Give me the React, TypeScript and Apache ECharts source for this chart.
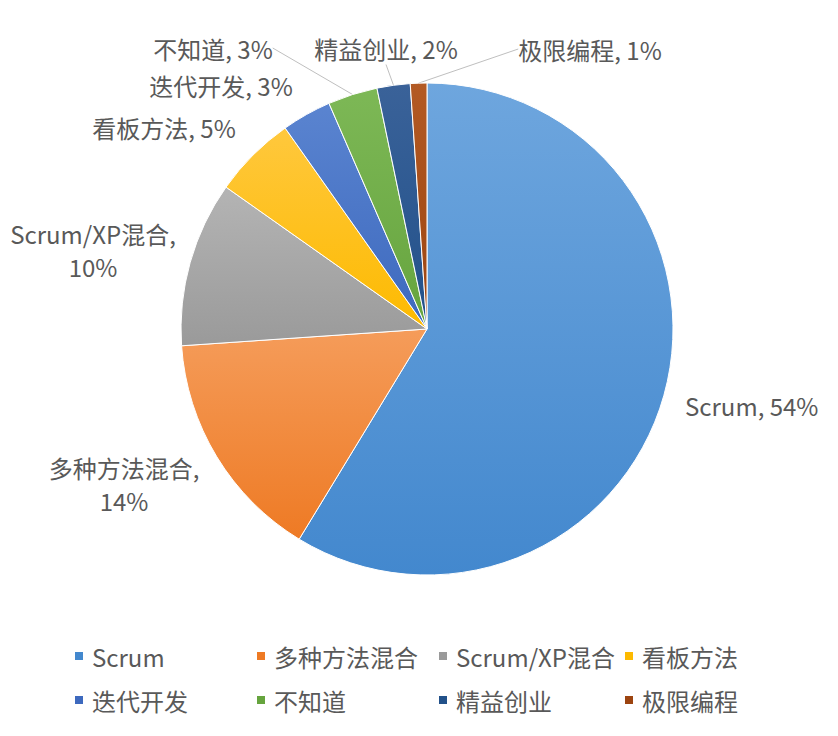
import React, { useEffect, useRef } from "react";
import * as echarts from "echarts";

const CATEGORIES = ["Scrum", "多种方法混合", "Scrum/XP混合", "看板方法", "迭代开发", "不知道", "精益创业", "极限编程"];
const VALUES = [54, 14, 10, 5, 3, 3, 2, 1];
const COLORS_TOP = ["#6EA6DE", "#F59C5A", "#B4B4B4", "#FFC83D", "#5A84D0", "#7DB856", "#3A6299", "#B35A24"];
const COLORS_BOTTOM = ["#4388CE", "#EE7A24", "#9A9A9A", "#FDBA00", "#3D69BE", "#66A43E", "#22518A", "#9C4410"];
const WRAPPED = ["多种方法混合", "Scrum/XP混合"];
const WITH_LINE = ["不知道", "精益创业", "极限编程"];

// label placement (layout only)
const LABEL_LAYOUT: { x: number; y: number; align: string }[] = [
  { x: 685, y: 405, align: "left" },
  { x: 124, y: 484, align: "center" },
  { x: 93, y: 250, align: "center" },
  { x: 164, y: 127, align: "center" },
  { x: 221, y: 85, align: "center" },
  { x: 213, y: 48, align: "center" },
  { x: 386, y: 48, align: "center" },
  { x: 590, y: 49, align: "center" },
];

const LEGEND_COLUMNS = [
  { left: 73, items: ["Scrum", "迭代开发"] },
  { left: 255, items: ["多种方法混合", "不知道"] },
  { left: 437, items: ["Scrum/XP混合", "精益创业"] },
  { left: 623, items: ["看板方法", "极限编程"] },
];

const FONT = '"Noto Sans CJK SC", "Noto Sans", sans-serif';
const TEXT_COLOR = "#595959";

export default function App() {
  const ref = useRef<HTMLDivElement>(null);
  useEffect(() => {
    document.body.style.margin = "0";
    const chart = echarts.init(ref.current!, null, { renderer: "svg" });
    const data = CATEGORIES.map((name, i) => ({
      name,
      value: VALUES[i],
      itemStyle: {
        color: new echarts.graphic.LinearGradient(0, 0, 0, 1, [
          { offset: 0, color: COLORS_TOP[i] },
          { offset: 1, color: COLORS_BOTTOM[i] },
        ]),
      },
      labelLine: { show: WITH_LINE.includes(name) },
    }));
    chart.setOption({
      animation: false,
      backgroundColor: "#ffffff",
      color: COLORS_BOTTOM,
      legend: LEGEND_COLUMNS.map((col) => ({
        orient: "vertical",
        left: col.left,
        top: 642,
        padding: 0,
        itemGap: 16,
        itemWidth: 10,
        itemHeight: 10,
        icon: "rect",
        selectedMode: false,
        data: col.items.map((n) => ({
          name: n,
          itemStyle: { color: COLORS_BOTTOM[CATEGORIES.indexOf(n)] },
        })),
        textStyle: {
          fontFamily: FONT,
          fontSize: 24,
          color: TEXT_COLOR,
          lineHeight: 28,
          padding: [0, 0, 0, 3],
        },
      })),
      series: [
        {
          type: "pie",
          center: [427, 329],
          radius: [0, 246],
          startAngle: 90,
          clockwise: true,
          data,
          itemStyle: { borderColor: "#ffffff", borderWidth: 1 },
          label: {
            show: true,
            position: "outside",
            alignTo: "none",
            overflow: "none",
            fontFamily: FONT,
            fontSize: 24,
            color: TEXT_COLOR,
            lineHeight: 33,
            formatter: (p: any) =>
              WRAPPED.includes(p.name) ? `${p.name},\n${p.value}%` : `${p.name}, ${p.value}%`,
          },
          labelLine: {
            show: false,
            length: 10,
            length2: 0,
            lineStyle: { color: "#BFBFBF", width: 1 },
          },
          labelLayout: (p: any) => {
            const l = LABEL_LAYOUT[p.dataIndex];
            return { x: l.x, y: l.y, align: l.align, verticalAlign: "middle" };
          },
          emphasis: { disabled: true },
        },
      ],
    });
    return () => chart.dispose();
  }, []);
  return <div ref={ref} style={{ width: 838, height: 736 }} />;
}
